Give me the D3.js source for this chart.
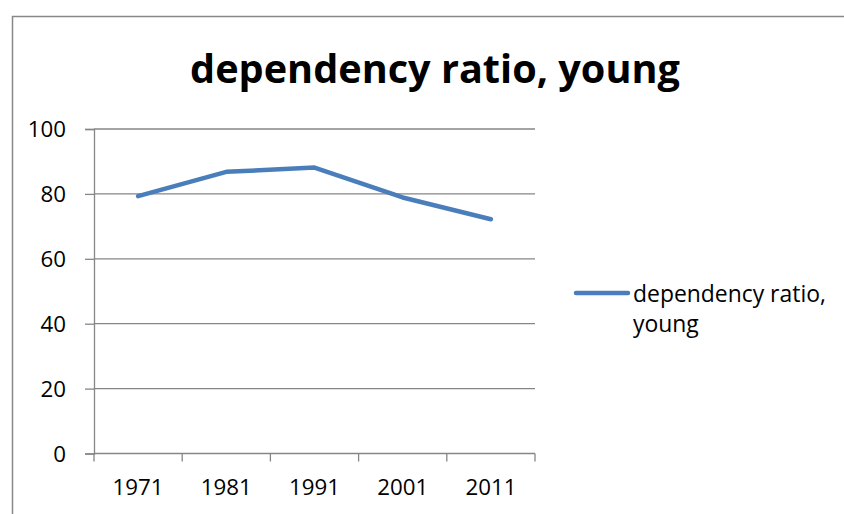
<!DOCTYPE html>
<html>
<head>
<meta charset="utf-8">
<script src="https://cdn.jsdelivr.net/npm/d3@7"></script>
<style>
  html, body { margin: 0; padding: 0; background: #fff; }
  svg { display: block; }
  text { font-family: "Open Sans", "Noto Sans", sans-serif; fill: #000; }
</style>
</head>
<body>
<div id="chart"></div>
<script>
// Young-age dependency ratio by census year
const years = ["1971", "1981", "1991", "2001", "2011"];
const ratioYoung = [79.3, 86.8, 88.1, 78.9, 72.2];
const yTicks = [0, 20, 40, 60, 80, 100];
const legendLines = ["dependency ratio,", "young"];
const titleText = "dependency ratio, young";

const W = 844, H = 514;
const svg = d3.select("#chart").append("svg").attr("width", W).attr("height", H);

// chart frame (runs off the right and bottom edges)
svg.append("rect")
  .attr("x", 12.5).attr("y", 16.5)
  .attr("width", 900).attr("height", 600)
  .attr("fill", "#fff").attr("stroke", "#888").attr("stroke-width", 1.5);

const plot = { left: 94, right: 535, top: 129, bottom: 453.5 };

const x = d3.scaleBand().domain(years).range([plot.left, plot.right]);
const y = d3.scaleLinear().domain([0, 100]).range([plot.bottom, plot.top]);

// font size that makes a text node render at a target width
function fitSize(node, target) {
  const fs = parseFloat(node.getAttribute("font-size"));
  const w = node.getComputedTextLength();
  return w > 0 ? fs * target / w : fs;
}

const axisColor = "#868686";

// horizontal gridlines
svg.append("g").selectAll("line").data(yTicks.filter(d => d > 0)).join("line")
  .attr("x1", plot.left).attr("x2", plot.right)
  .attr("y1", d => y(d)).attr("y2", d => y(d))
  .attr("stroke", axisColor).attr("stroke-width", 1.3);

// x axis with ticks on category boundaries
const xAxisG = svg.append("g").attr("transform", `translate(0,${plot.bottom})`);
xAxisG.append("line")
  .attr("x1", plot.left).attr("x2", plot.right)
  .attr("stroke", axisColor).attr("stroke-width", 1.3);
const bounds = years.map(d => x(d)).concat([x(years[years.length - 1]) + x.bandwidth()]);
xAxisG.selectAll("line.tk").data(bounds).join("line").attr("class", "tk")
  .attr("x1", d => d).attr("x2", d => d).attr("y1", 0).attr("y2", 8)
  .attr("stroke", axisColor).attr("stroke-width", 1.3);
const xLabels = xAxisG.selectAll("text").data(years).join("text")
  .attr("x", d => x(d) + x.bandwidth() / 2).attr("y", 41)
  .attr("text-anchor", "middle").attr("font-size", 20)
  .text(d => d);
const labelSize = fitSize(xLabels.node(), 51);
xLabels.attr("font-size", labelSize);

// y axis
const yAxis = svg.append("g").attr("transform", `translate(${plot.left},0)`)
  .call(d3.axisLeft(y).tickValues(yTicks).tickSize(9).tickPadding(19));
yAxis.select(".domain").attr("stroke", axisColor).attr("stroke-width", 1.3);
yAxis.selectAll(".tick line").attr("stroke", axisColor).attr("stroke-width", 1.3);
yAxis.selectAll(".tick text")
  .attr("font-size", labelSize).attr("font-family", "Open Sans, sans-serif")
  .attr("fill", "#000").attr("dy", "0.35em");

// data line
const line = d3.line()
  .x((d, i) => x(years[i]) + x.bandwidth() / 2)
  .y(d => y(d));
svg.append("path").datum(ratioYoung)
  .attr("d", line)
  .attr("fill", "none").attr("stroke", "#4a7ebb")
  .attr("stroke-width", 4.5).attr("stroke-linecap", "round").attr("stroke-linejoin", "round");

// title
const title = svg.append("text")
  .attr("x", 435).attr("y", 83)
  .attr("text-anchor", "middle").attr("font-weight", 700).attr("font-size", 38)
  .text(titleText);
title.attr("font-size", fitSize(title.node(), 490));

// legend
const lg = svg.append("g");
lg.append("line").attr("x1", 576).attr("x2", 628).attr("y1", 293).attr("y2", 293)
  .attr("stroke", "#4a7ebb").attr("stroke-width", 4.5).attr("stroke-linecap", "round");
const l1 = lg.append("text").attr("x", 633).attr("y", 302).attr("font-size", 20).text(legendLines[0]);
const legendSize = fitSize(l1.node(), 193);
l1.attr("font-size", legendSize);
lg.append("text").attr("x", 633).attr("y", 332).attr("font-size", legendSize).text(legendLines[1]);
</script>
</body>
</html>
